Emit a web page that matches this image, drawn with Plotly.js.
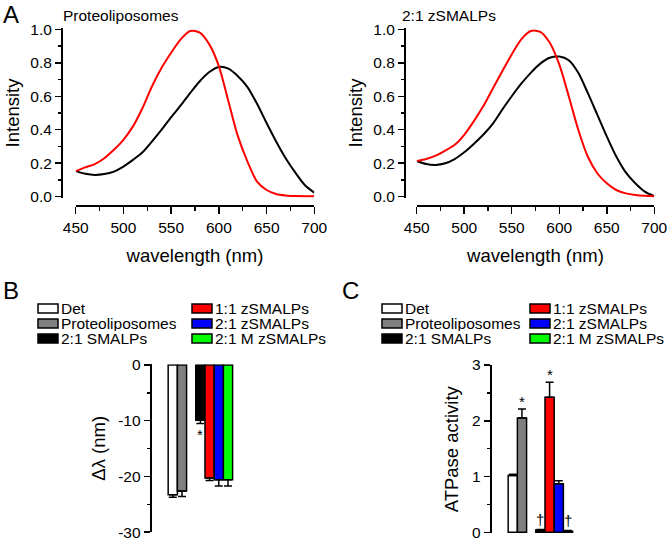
<!DOCTYPE html>
<html>
<head>
<meta charset="utf-8">
<script src="https://cdn.plot.ly/plotly-3.0.1.min.js"></script>
<style>
html, body { margin: 0; padding: 0; background: #fff; }
#myDiv { width: 669px; height: 539px; }
</style>
</head>
<body>
<div id="myDiv"></div>
<script>
// emission spectra, panel A
var wl = [450,460,470,480,490,500,510,520,530,540,550,560,570,580,590,600,610,620,630,640,650,660,670,680,690,700];
var proteoRed   = [0.153,0.175,0.195,0.23,0.28,0.34,0.42,0.53,0.66,0.77,0.86,0.94,0.99,0.98,0.91,0.78,0.57,0.36,0.21,0.09,0.04,0.016,0.007,0.004,0.003,0.003];
var proteoBlack = [0.153,0.137,0.13,0.135,0.15,0.18,0.22,0.265,0.33,0.40,0.475,0.545,0.62,0.69,0.745,0.775,0.765,0.72,0.655,0.555,0.44,0.33,0.23,0.145,0.07,0.024];
var zsmRed      = [0.213,0.225,0.245,0.275,0.31,0.37,0.45,0.54,0.645,0.75,0.85,0.94,0.99,0.985,0.92,0.79,0.60,0.40,0.24,0.14,0.08,0.04,0.02,0.01,0.005,0.003];
var zsmBlack    = [0.213,0.195,0.19,0.20,0.225,0.265,0.315,0.37,0.435,0.52,0.60,0.675,0.74,0.795,0.83,0.837,0.815,0.74,0.62,0.49,0.36,0.24,0.145,0.08,0.03,0.003];

// bar panels B and C
var groups = ["Det", "Proteoliposomes", "2:1 SMALPs", "1:1 zSMALPs", "2:1 zSMALPs", "2:1 M zSMALPs"];
var groupColors = ["#ffffff", "#808080", "#000000", "#ff0000", "#0000ff", "#00ff00"];
var barPos = [0, 1, 3, 4, 5, 6];
var shiftVals = [-23.3, -22.6, -9.9, -20.3, -20.6, -20.6];
var shiftErr = [0.45, 1.0, 0.6, 0.45, 1.1, 1.1];
var atpVals = [1.02, 2.05, 0.04, 2.42, 0.87, 0.02];
var atpErr = [0.02, 0.16, 0.01, 0.27, 0.055, 0.01];
var shiftTicks = [0, -10, -20, -30];
var shiftTickText = ["0", "-10", "-20", "-30"];
var atpMarks = ["", "*", "\u2020", "*", "", "\u2020"];

var W = 669, H = 539;
var FONT = "Liberation Sans, Arial, sans-serif";
function fx(p) { return p / W; }
function fy(p) { return 1 - p / H; }

var spectrum = function(y, color, xa, ya) {
  return {
    x: wl, y: y, xaxis: xa, yaxis: ya,
    mode: "lines", type: "scatter",
    line: {color: color, width: 2, shape: "spline", smoothing: 0.8},
    hoverinfo: "skip", showlegend: false
  };
};

var bars = function(vals, err, up, xa, ya) {
  return {
    type: "bar", x: barPos, y: vals, width: 1, xaxis: xa, yaxis: ya,
    marker: {color: groupColors, line: {color: "black", width: 1.5}},
    error_y: {
      type: "data", symmetric: false,
      array: up ? err : err.map(function() { return 0; }),
      arrayminus: up ? err.map(function() { return 0; }) : err,
      color: "black", thickness: 1.5, width: 4
    },
    hoverinfo: "skip", showlegend: false
  };
};

var data = [
  spectrum(proteoBlack, "black", "x", "y"),
  spectrum(proteoRed, "#ff0000", "x", "y"),
  spectrum(zsmBlack, "black", "x2", "y2"),
  spectrum(zsmRed, "#ff0000", "x2", "y2"),
  bars(shiftVals, shiftErr, false, "x3", "y3"),
  bars(atpVals, atpErr, true, "x4", "y4")
];

var axBase = {
  showline: true, linecolor: "black", linewidth: 2,
  ticks: "outside", ticklen: 6, tickwidth: 1.5, tickcolor: "black",
  showgrid: false, zeroline: false, fixedrange: true,
  ticklabeloverflow: "allow",
  tickfont: {family: FONT, size: 15.5, color: "black"}
};
function ax(extra) { return Object.assign({}, axBase, extra); }
function minor(d, len) { return {ticks: "outside", ticklen: len || 3, tickwidth: 1.5, tickcolor: "black", dtick: d, showgrid: false}; }

var wlTitle = {text: "wavelength (nm)", font: {family: FONT, size: 18.5, color: "black"}, standoff: 13};
var intTitle = {text: "Intensity", font: {family: FONT, size: 18.5, color: "black"}, standoff: 5};

var layout = {
  width: W, height: H,
  margin: {l: 0, r: 0, t: 0, b: 0},
  paper_bgcolor: "white", plot_bgcolor: "rgba(0,0,0,0)",
  font: {family: FONT, color: "black"},
  showlegend: false,
  xaxis: ax({domain: [fx(75.7), fx(314.3)], range: [450, 700], anchor: "free", position: fy(206),
             tick0: 450, dtick: 50, ticklen: 7, minor: minor(25, 4), title: wlTitle}),
  yaxis: ax({domain: [fy(197.7), fy(28.3)], range: [-0.006, 1.006], anchor: "free", position: fx(62),
             tick0: 0, dtick: 0.2, tickformat: ".1f", minor: minor(0.1), title: intTitle}),
  xaxis2: ax({domain: [fx(416.7), fx(654.3)], range: [450, 700], anchor: "free", position: fy(206),
              tick0: 450, dtick: 50, ticklen: 7, minor: minor(25, 4), title: wlTitle}),
  yaxis2: ax({domain: [fy(197.7), fy(28.3)], range: [-0.006, 1.006], anchor: "free", position: fx(405),
              tick0: 0, dtick: 0.2, tickformat: ".1f", minor: minor(0.1), title: intTitle}),
  xaxis3: {domain: [fx(151.7), fx(241.8)], range: [-2.29, 7.5], visible: false, fixedrange: true},
  yaxis3: ax({domain: [fy(532.4), fy(364.2)], range: [-30.05, 0.15], anchor: "x3",
              tickmode: "array", tickvals: shiftTicks, ticktext: shiftTickText,
              minor: minor(5),
              title: {text: "\u0394\u03bb (nm)", font: {family: FONT, size: 18.5, color: "black"}, standoff: 8}}),
  xaxis4: {domain: [fx(491.7), fx(581.8)], range: [-2.29, 7.5], visible: false, fixedrange: true},
  yaxis4: ax({domain: [fy(533.4), fy(365)], range: [-0.02, 3], anchor: "x4",
              tick0: 0, dtick: 1, minor: minor(0.5),
              title: {text: "ATPase activity", font: {family: FONT, size: 18.5, color: "black"}, standoff: 8}}),
  shapes: [],
  annotations: []
};

function label(text, x, y, size, h) {
  var a = {text: text, xref: "paper", yref: "paper", x: fx(x), y: fy(y),
           xanchor: "left", yanchor: "middle", showarrow: false,
           font: {family: FONT, size: size, color: "black"}};
  if (h) { a.height = h; a.borderpad = 0; }
  return a;
}

// panel letters and titles
layout.annotations.push(label("A", 1, 14, 24));
layout.annotations.push(label("B", 1, 290, 24));
layout.annotations.push(label("C", 340, 290, 24));
layout.annotations.push(label("Proteoliposomes", 61, 16, 15.5));
layout.annotations.push(label("2:1 zSMALPs", 400, 16, 15.5));

// legend blocks for B and C
var legendCols = [[38, 192], [382, 530]];
var legendRows = [308.5, 323.5, 338.5];
legendCols.forEach(function(cols) {
  groups.forEach(function(name, i) {
    var x0 = cols[i < 3 ? 0 : 1], yc = legendRows[i % 3];
    layout.shapes.push({type: "rect", xref: "paper", yref: "paper",
      x0: fx(x0), x1: fx(x0 + 20), y0: fy(yc + 4.5), y1: fy(yc - 4.5),
      fillcolor: groupColors[i], line: {color: "black", width: 1.5}});
    layout.annotations.push(label(name, x0 + 22, yc, 15.5, 15));
  });
});

// significance marks
layout.annotations.push({text: "*", x: barPos[2], y: shiftVals[2] - shiftErr[2], xref: "x3", yref: "y3",
  xanchor: "center", yanchor: "top", showarrow: false, font: {family: FONT, size: 15, color: "black"}});
atpMarks.forEach(function(m, i) {
  if (!m) return;
  layout.annotations.push({text: m, x: barPos[i], y: atpVals[i] + atpErr[i], xref: "x4", yref: "y4",
    xanchor: "center", yanchor: "bottom", showarrow: false, yshift: m === "*" ? -3 : 0,
    font: {family: FONT, size: 15, color: "black"}});
});

Plotly.newPlot("myDiv", data, layout, {displayModeBar: false, staticPlot: true});
</script>
</body>
</html>
